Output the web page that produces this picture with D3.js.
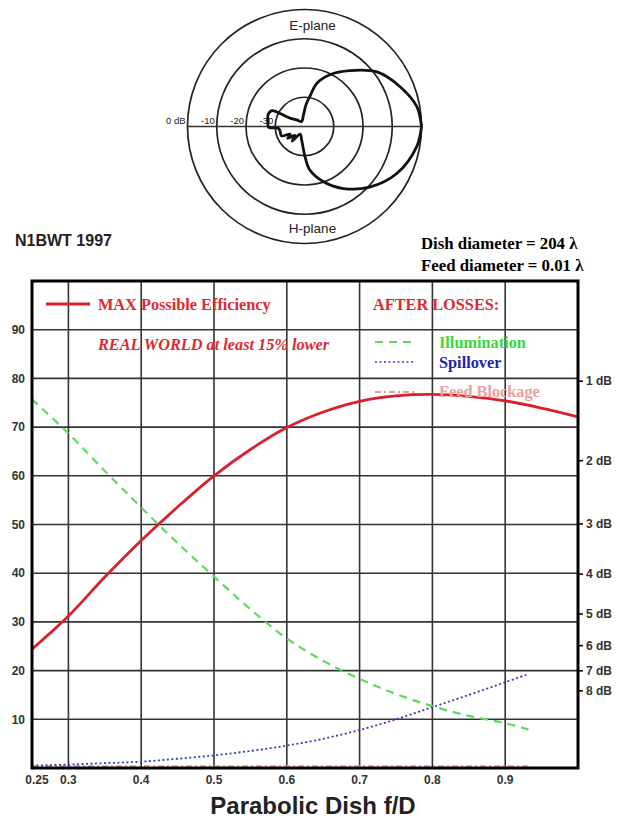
<!DOCTYPE html>
<html>
<head>
<meta charset="utf-8">
<script src="https://cdn.jsdelivr.net/npm/d3@7"></script>
<style>
  body { margin: 0; background: #fff; }
  svg text { font-family: "Liberation Sans", Arial, sans-serif; }
  .serif { font-family: "Liberation Serif", "Times New Roman", serif !important; }
</style>
</head>
<body>
<div id="chart"></div>
<script>
// Efficiency vs f/D
const fdMax = [0.25, 0.3, 0.35, 0.4, 0.45, 0.5, 0.55, 0.6, 0.65, 0.7, 0.75, 0.8, 0.85, 0.9, 0.95, 1.0];
const maxEfficiency = [24.4, 31.2, 39.2, 46.7, 53.6, 60, 65.4, 69.9, 73.1, 75.3, 76.4, 76.7, 76.3, 75.4, 73.9, 72.1];

const fdLoss = [0.25, 0.3, 0.35, 0.4, 0.45, 0.5, 0.55, 0.6, 0.65, 0.7, 0.75, 0.8, 0.85, 0.9, 0.932];
const illumination = [75.7, 68.7, 61, 53.5, 46.2, 39.3, 32.6, 26.6, 22, 18.3, 15.2, 12.7, 10.7, 9.2, 7.9];
const spillover = [0.5, 0.7, 1.0, 1.3, 1.9, 2.6, 3.5, 4.6, 6.0, 7.8, 10.0, 12.5, 15.0, 17.6, 19.3];
const feedBlockage = [0.3, 0.3, 0.3, 0.3, 0.3, 0.3, 0.3, 0.3, 0.3, 0.3, 0.3, 0.3, 0.3, 0.3, 0.3];

// Axis ticks
const yTicks = [10, 20, 30, 40, 50, 60, 70, 80, 90];
const xTicks = [0.25, 0.3, 0.4, 0.5, 0.6, 0.7, 0.8, 0.9];
const xGrid = [0.3, 0.4, 0.5, 0.6, 0.7, 0.8, 0.9];
const dbTicks = [1, 2, 3, 4, 5, 6, 7, 8];

// Feed pattern (polar, dB vs angle from boresight)
const ringDb = [0, -10, -20, -30];
const ringLabels = ["0 dB", "-10", "-20", "-30"];
const eAngles = [0, 10, 22.6, 37, 51, 64, 74, 80, 86, 95, 120, 140, 150, 152, 154, 162, 173, 180];
const eDb = [0, -1, -4.6, -9, -15.4, -20.3, -24.6, -29.6, -32.5, -36, -38, -36.5, -34.3, -30.5, -27.7, -26.9, -27.4, -27.5];
const hAngles = [0, 10, 27, 43, 58, 71, 83, 89, 102, 120, 130, 138, 145, 152, 158, 170, 176, 178, 180];
const hDb = [0, -1, -4.6, -9.6, -15, -20, -25, -29.7, -35.3, -37, -33.5, -35.5, -33, -34.5, -31.5, -31.5, -31, -28, -27.5];

const width = 627;
const height = 821;

const svg = d3.select("#chart")
  .append("svg")
  .attr("width", width)
  .attr("height", height);

// ---------- polar feed pattern ----------
const cx = 304.5, cy = 126.5;
const r = d3.scaleLinear().domain([-40, 0]).range([0, 117]);

const polar = svg.append("g").attr("transform", `translate(${cx},${cy})`);

polar.selectAll("circle")
  .data(ringDb)
  .enter()
  .append("circle")
  .attr("r", d => r(d))
  .attr("fill", "none")
  .attr("stroke", "#222")
  .attr("stroke-width", 1.7);

polar.append("line")
  .attr("x1", -r(0)).attr("x2", r(0))
  .attr("stroke", "#333")
  .attr("stroke-width", 1.7);

polar.selectAll(".ringLabel")
  .data(ringDb)
  .enter()
  .append("text")
  .attr("x", d => -r(d) - 2)
  .attr("y", -3)
  .attr("text-anchor", "end")
  .style("font-size", "9.5px")
  .style("fill", "#222")
  .text((d, i) => ringLabels[i]);

const pts = eAngles.map((a, i) => ({ a: a, db: eDb[i] }))
  .concat(hAngles.map((a, i) => ({ a: -a, db: hDb[i] })).reverse());

const radial = d3.lineRadial()
  .angle(d => (90 - d.a) * Math.PI / 180)
  .radius(d => r(d.db))
  .curve(d3.curveCatmullRomClosed.alpha(0.5));

polar.append("path")
  .attr("d", radial(pts))
  .attr("fill", "none")
  .attr("stroke", "#111")
  .attr("stroke-width", 2.8);

polar.append("text")
  .attr("x", 8).attr("y", -97)
  .attr("text-anchor", "middle")
  .style("font-size", "13.5px")
  .style("fill", "#222")
  .text("E-plane");

polar.append("text")
  .attr("x", 8).attr("y", 106)
  .attr("text-anchor", "middle")
  .style("font-size", "13.5px")
  .style("fill", "#222")
  .text("H-plane");

// Header texts
svg.append("text")
  .attr("x", 15).attr("y", 246)
  .style("font-size", "16px")
  .style("font-weight", "bold")
  .style("fill", "#222")
  .text("N1BWT 1997");

svg.append("text")
  .attr("class", "serif")
  .attr("x", 421).attr("y", 249)
  .style("font-size", "16.8px")
  .style("font-weight", "bold")
  .text("Dish diameter = 204 λ");

svg.append("text")
  .attr("class", "serif")
  .attr("x", 421).attr("y", 271)
  .style("font-size", "16.8px")
  .style("font-weight", "bold")
  .text("Feed diameter = 0.01 λ");

// ---------- efficiency chart ----------
const margin = { top: 281, right: 49, bottom: 53, left: 32 };

const x = d3.scaleLinear()
  .domain([0.25, 1.0])
  .range([margin.left, width - margin.right]);

const y = d3.scaleLinear()
  .domain([0, 100])
  .range([height - margin.bottom, margin.top]);

// Grid
svg.append("g")
  .selectAll("line")
  .data(xGrid)
  .enter()
  .append("line")
  .attr("x1", d => x(d)).attr("x2", d => x(d))
  .attr("y1", y(0)).attr("y2", y(100))
  .attr("stroke", "#333")
  .attr("stroke-width", 1.6);

svg.append("g")
  .selectAll("line")
  .data(yTicks)
  .enter()
  .append("line")
  .attr("x1", x(0.25)).attr("x2", x(1.0))
  .attr("y1", d => y(d)).attr("y2", d => y(d))
  .attr("stroke", "#333")
  .attr("stroke-width", 1.6);

// Left axis labels
svg.append("g")
  .selectAll("text")
  .data(yTicks)
  .enter()
  .append("text")
  .attr("x", 25)
  .attr("y", d => y(d))
  .attr("dy", "0.35em")
  .attr("text-anchor", "end")
  .style("font-size", "12px")
  .style("font-weight", "bold")
  .style("fill", "#333")
  .text(d => d);

// Bottom axis labels
svg.append("g")
  .selectAll("text")
  .data(xTicks)
  .enter()
  .append("text")
  .attr("x", d => d === 0.25 ? x(d) + 5 : x(d))
  .attr("y", y(0) + 16)
  .attr("text-anchor", "middle")
  .style("font-size", "12px")
  .style("font-weight", "bold")
  .style("fill", "#333")
  .text(d => d);

// Right axis, loss in dB
const dbValue = d => 100 * Math.pow(10, -d / 10);

svg.append("g")
  .selectAll("line")
  .data(dbTicks)
  .enter()
  .append("line")
  .attr("x1", x(1.0)).attr("x2", x(1.0) + 5)
  .attr("y1", d => y(dbValue(d))).attr("y2", d => y(dbValue(d)))
  .attr("stroke", "#000")
  .attr("stroke-width", 1.5);

svg.append("g")
  .selectAll("text")
  .data(dbTicks)
  .enter()
  .append("text")
  .attr("x", x(1.0) + 8)
  .attr("y", d => y(dbValue(d)))
  .attr("dy", "0.35em")
  .style("font-size", "12px")
  .style("font-weight", "bold")
  .style("fill", "#333")
  .text(d => d + " dB");

// Curves
const lossLine = vals => d3.line()
  .x((d, i) => x(fdLoss[i]))
  .y(d => y(d))
  .curve(d3.curveCatmullRom)(vals);

svg.append("path")
  .attr("d", lossLine(feedBlockage))
  .attr("fill", "none")
  .attr("stroke", "#e79a9a")
  .attr("stroke-width", 2.5)
  .attr("stroke-dasharray", "6,3,2,3");

svg.append("path")
  .attr("d", lossLine(illumination))
  .attr("fill", "none")
  .attr("stroke", "#5cdc5c")
  .attr("stroke-width", 2.2)
  .attr("stroke-dasharray", "8,6");

svg.append("path")
  .attr("d", lossLine(spillover))
  .attr("fill", "none")
  .attr("stroke", "#3838c0")
  .attr("stroke-width", 1.8)
  .attr("stroke-dasharray", "2,2.5");

svg.append("path")
  .attr("d", d3.line()
    .x((d, i) => x(fdMax[i]))
    .y(d => y(d))
    .curve(d3.curveCatmullRom)(maxEfficiency))
  .attr("fill", "none")
  .attr("stroke", "#dd1f2a")
  .attr("stroke-width", 2.8);

// Frame
svg.append("rect")
  .attr("x", x(0.25))
  .attr("y", y(100))
  .attr("width", x(1.0) - x(0.25))
  .attr("height", y(0) - y(100))
  .attr("fill", "none")
  .attr("stroke", "#000")
  .attr("stroke-width", 3);

// Legend
svg.append("line")
  .attr("x1", 46).attr("x2", 90)
  .attr("y1", 304).attr("y2", 304)
  .attr("stroke", "#dd1f2a")
  .attr("stroke-width", 2.8);

const legendText = (tx, ty, txt, color, italic) => svg.append("text")
  .attr("class", "serif")
  .attr("x", tx).attr("y", ty)
  .style("font-size", "16.3px")
  .style("font-weight", "bold")
  .style("font-style", italic ? "italic" : "normal")
  .style("fill", color)
  .text(txt);

legendText(98, 310, "MAX Possible Efficiency", "#dd2a30");
legendText(98, 350, "REAL WORLD at least 15% lower", "#dd2a30", true);
legendText(373, 310, "AFTER LOSSES:", "#dd2a30");
legendText(439, 348, "Illumination", "#3ad83a");
legendText(439, 368, "Spillover", "#2323aa");
legendText(439, 397, "Feed Blockage", "#eba0a0");

svg.append("line")
  .attr("x1", 375).attr("x2", 415)
  .attr("y1", 342).attr("y2", 342)
  .attr("stroke", "#5cdc5c")
  .attr("stroke-width", 2)
  .attr("stroke-dasharray", "8,6");

svg.append("line")
  .attr("x1", 375).attr("x2", 415)
  .attr("y1", 362).attr("y2", 362)
  .attr("stroke", "#3838c0")
  .attr("stroke-width", 1.6)
  .attr("stroke-dasharray", "2,2.5");

svg.append("line")
  .attr("x1", 375).attr("x2", 415)
  .attr("y1", 392).attr("y2", 392)
  .attr("stroke", "#e79a9a")
  .attr("stroke-width", 2)
  .attr("stroke-dasharray", "6,3,2,3");

// X-axis title
svg.append("text")
  .attr("x", 313)
  .attr("y", 814)
  .attr("text-anchor", "middle")
  .style("font-size", "24px")
  .style("font-weight", "bold")
  .style("fill", "#222")
  .text("Parabolic Dish f/D");
</script>
</body>
</html>
